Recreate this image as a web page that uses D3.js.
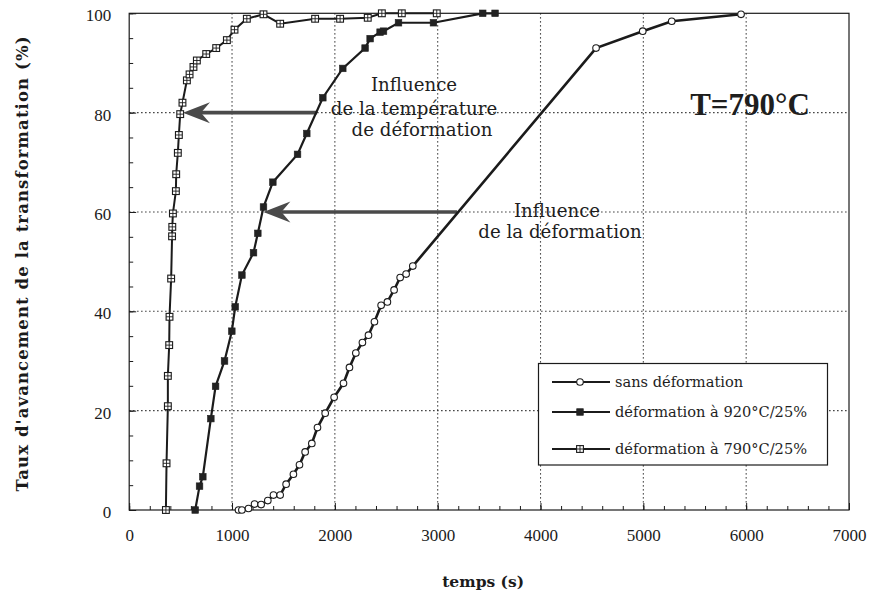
<!DOCTYPE html>
<html><head><meta charset="utf-8">
<script src="https://cdn.jsdelivr.net/npm/d3@7/dist/d3.min.js"></script>
<style>body{margin:0;background:#fff}svg{display:block}</style>
</head><body>
<svg id="chart" width="870" height="592"></svg>
<script>
// ---- data (temps en s, taux en %) ----
const sansDeformation = [
  [1063,0],[1096,0],[1160,0.3],[1219,1.2],[1283,1.1],[1348,1.9],[1403,3],[1468,3],
  [1526,5.2],[1597,7.2],[1656,9.1],[1711,11.7],[1776,13.4],[1831,16.6],[1906,19.5],
  [1993,22.7],[2084,25.5],[2142,28.7],[2204,31.6],[2268,33.7],[2327,35.2],[2385,37.9],
  [2450,41.2],[2511,41.9],[2576,44.3],[2635,46.8],[2693,47.5],[2758,49.1],
  [4540,93],[4994,96.4],[5276,98.4],[5950,99.8]
];
const deformation920 = [
  [642,0],[684,4.8],[716,6.7],[794,18.4],[840,24.9],[927,30],[998,36],[1031,40.9],
  [1096,47.3],[1209,51.8],[1251,55.7],[1306,61],[1397,66],[1637,71.6],[1727,75.8],
  [1883,83],[2077,88.9],[2294,93],[2343,94.9],[2440,96.2],[2473,96.4],[2619,98.1],
  [2959,98.1],[3438,100],[3558,100]
];
const deformation790 = [
  [357,0],[363,9.4],[376,20.9],[376,27],[389,33.2],[392,38.9],[408,46.6],[417,55.1],
  [419,57],[425,59.7],[454,64.2],[457,67.6],[473,71.9],[483,75.5],[496,79.7],[518,82],
  [561,86.5],[587,87.7],[625,89.2],[658,90.5],[749,91.8],[846,93],[950,94.6],[1024,96.7],
  [1144,98.9],[1306,99.8],[1468,97.9],[1808,98.9],[2051,98.9],[2320,99.1],[2457,100],
  [2651,100],[2991,100]
];
const xTicks = [0,1000,2000,3000,4000,5000,6000,7000];
const yTicks = [0,20,40,60,80,100];
const legendLabels = ["sans déformation","déformation à 920°C/25%","déformation à 790°C/25%"];
const annot1Lines = ["Influence","de la température","de déformation"];
const annot2Lines = ["Influence","de la déformation"];
// arrows in data units: [fromX, toX, y]
const arrow1 = [1827, 523, 80];
const arrow2 = [3189, 1305, 60];

// ---- layout ----
const svg = d3.select("#chart");
const L = 129.2, R = 849, T = 13.3, B = 510;
const x = d3.scaleLinear().domain([0,7000]).range([L,R]);
const y = d3.scaleLinear().domain([0,100]).range([B,T]);
const ink = "#1b1b1b";
const serif = "'Liberation Serif','Times New Roman',serif";
const pal = "'DejaVu Serif',serif";

// grid
const grid = svg.append("g").attr("stroke", ink).attr("stroke-width", 1.1).attr("stroke-dasharray","1.3,2.7");
grid.selectAll(".gx").data(xTicks.filter(d=>d>0&&d<7000)).join("line")
  .attr("x1",d=>x(d)).attr("x2",d=>x(d)).attr("y1",T).attr("y2",B);
grid.selectAll(".gy").data(yTicks.filter(d=>d>0&&d<100)).join("line")
  .attr("x1",L).attr("x2",R).attr("y1",d=>y(d)).attr("y2",d=>y(d));

// axes (ticks inward)
const xAxis = d3.axisBottom(x).tickValues(d3.range(0,7001,200)).tickSize(-4).tickFormat("");
const xAxisMajor = d3.axisBottom(x).tickValues(xTicks).tickSize(-7).tickPadding(19).tickFormat(d3.format("d"));
const yAxis = d3.axisLeft(y).tickValues(d3.range(0,101,5)).tickSize(-4).tickFormat("");
const yAxisMajor = d3.axisLeft(y).tickValues(yTicks).tickSize(-7).tickPadding(18).tickFormat(d3.format("d"));
function styleAxis(g){
  g.select(".domain").remove();
  g.selectAll("line").attr("stroke",ink).attr("stroke-width",1);
  g.selectAll("text").attr("fill",ink).attr("font-family",serif).attr("font-size",17);
}
svg.append("g").attr("transform",`translate(0,${B})`).call(xAxis).call(styleAxis);
svg.append("g").attr("transform",`translate(0,${B})`).call(xAxisMajor).call(styleAxis);
svg.append("g").attr("transform",`translate(${L},0)`).call(yAxis).call(styleAxis);
svg.append("g").attr("transform",`translate(${L},0)`).call(yAxisMajor).call(styleAxis)
  .selectAll("text").attr("dy","0.45em");

// frame
svg.append("rect").attr("x",L).attr("y",T).attr("width",R-L).attr("height",B-T)
  .attr("fill","none").attr("stroke",ink).attr("stroke-width",1.2);

// axis titles
svg.append("text").attr("x",(L+R)/2-6).attr("y",587).attr("text-anchor","middle")
  .attr("font-family",pal).attr("font-weight","bold").attr("font-size",15.5).attr("fill",ink)
  .text("temps (s)");
svg.append("text").attr("transform","translate(28,264) rotate(-90)").attr("text-anchor","middle")
  .attr("font-family",pal).attr("font-weight","bold").attr("font-size",16.5).attr("fill",ink)
  .attr("textLength",455).attr("lengthAdjust","spacing")
  .text("Taux d'avancement de la transformation (%)");

// arrows
function drawArrow(a){
  const g = svg.append("g").attr("fill","#4a4a4a").attr("stroke","#4a4a4a");
  const x0 = x(a[0]), x1 = x(a[1]), yy = y(a[2]);
  g.append("line").attr("x1",x0).attr("x2",x1+18).attr("y1",yy).attr("y2",yy).attr("stroke-width",3.6);
  g.append("path").attr("stroke","none")
    .attr("d",`M${x1},${yy} L${x1+27},${yy-10.5} L${x1+18},${yy} L${x1+27},${yy+10.5} Z`);
}
drawArrow(arrow1);
drawArrow(arrow2);

// series lines
const line = d3.line().x(d=>x(d[0])).y(d=>y(d[1]));
svg.append("path").datum(sansDeformation).attr("d",line).attr("fill","none").attr("stroke",ink).attr("stroke-width",2.6);
svg.append("path").datum(deformation920).attr("d",line).attr("fill","none").attr("stroke",ink).attr("stroke-width",2.2);
svg.append("path").datum(deformation790).attr("d",line).attr("fill","none").attr("stroke",ink).attr("stroke-width",2);

// markers
function circleMarker(g, cx, cy){
  g.append("circle").attr("cx",cx).attr("cy",cy).attr("r",3.3).attr("fill","#fff").attr("stroke",ink).attr("stroke-width",1.1);
}
function filledSquare(g, cx, cy){
  g.append("rect").attr("x",cx-3.3).attr("y",cy-3.3).attr("width",6.6).attr("height",6.6).attr("fill","#222").attr("stroke","#222").attr("stroke-width",0.6);
}
function hatchSquare(g, cx, cy){
  g.append("rect").attr("x",cx-3.4).attr("y",cy-3.4).attr("width",6.8).attr("height",6.8).attr("fill","#fff").attr("stroke",ink).attr("stroke-width",1.1);
  g.append("path").attr("d",`M${cx-3.4},${cy} H${cx+3.4} M${cx},${cy-3.4} V${cy+3.4}`).attr("stroke",ink).attr("stroke-width",0.9);
}
const mk = svg.append("g");
sansDeformation.forEach(d=>circleMarker(mk, x(d[0]), y(d[1])));
deformation920.forEach(d=>filledSquare(mk, x(d[0]), y(d[1])));
deformation790.forEach(d=>hatchSquare(mk, x(d[0]), y(d[1])));

// annotations
const a1 = svg.append("text").attr("font-family",pal).attr("font-size",18.2).attr("fill","#1e1e1e").attr("text-anchor","middle");
[[414,91],[414,115],[422,135.5]].forEach((p,i)=>a1.append("tspan").attr("x",p[0]).attr("y",p[1]).text(annot1Lines[i]));
const a2 = svg.append("text").attr("font-family",pal).attr("font-size",18.2).attr("fill","#1e1e1e").attr("text-anchor","middle");
[[557,216.5],[560,237.5]].forEach((p,i)=>a2.append("tspan").attr("x",p[0]).attr("y",p[1]).text(annot2Lines[i]));
svg.append("text").attr("x",750).attr("y",115).attr("text-anchor","middle")
  .attr("font-family",serif).attr("font-weight","bold").attr("font-size",31).attr("fill","#1e1e1e")
  .text("T=790°C");

// legend
const lg = svg.append("g");
lg.append("rect").attr("x",538.5).attr("y",363.5).attr("width",289).attr("height",101.5)
  .attr("fill","#fff").attr("stroke",ink).attr("stroke-width",1.2);
const ly = [382, 412, 449];
const markFns = [circleMarker, filledSquare, hatchSquare];
legendLabels.forEach((lab,i)=>{
  lg.append("line").attr("x1",552).attr("x2",610).attr("y1",ly[i]).attr("y2",ly[i]).attr("stroke",ink).attr("stroke-width",1.8);
  markFns[i](lg, 580, ly[i]);
  lg.append("text").attr("x",615).attr("y",ly[i]+5).attr("font-family",pal).attr("font-size",14.6).attr("fill","#1e1e1e").text(lab);
});
</script>
</body></html>
